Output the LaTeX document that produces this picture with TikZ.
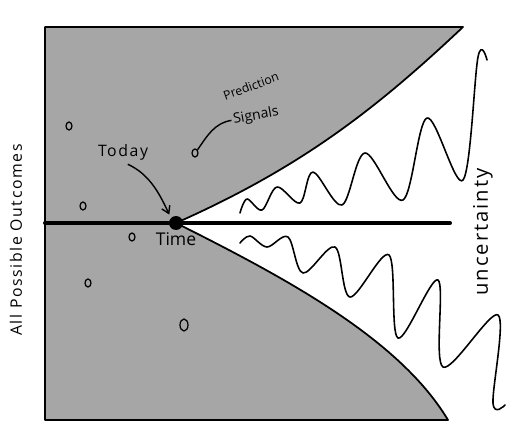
\documentclass[tikz,border=0pt]{standalone}
\usepackage{fontspec}
\setsansfont{Open Sans}
\usetikzlibrary{arrows.meta, calc, positioning, shapes.geometric}
\definecolor{conegray}{RGB}{166,166,166}

\begin{document}
\begin{tikzpicture}[x=0.02cm, y=-0.02cm,
    hand/.style={font=\sffamily, inner sep=1pt},
    pebble/.style={draw, ellipse, line width=0.7pt, minimum width=0.12cm, minimum height=0.16cm, inner sep=0pt},
    wave/.style={line width=0.9pt, line cap=round, line join=round},
    pointer/.style={line width=0.8pt, -{Straight Barb[length=4pt, width=5pt]}}]
    \useasboundingbox (0,0) rectangle (530,442);

    % cone of outcomes
    \filldraw[fill=conegray, line width=1pt, line join=round] (45,27) -- (463,27)
        .. controls (375,110) and (300,168) .. (176,223)
        .. controls (290,280) and (400,340) .. (448,420) -- (45,420) -- cycle;

    % time axis
    \coordinate (axisL) at (45,223);
    \coordinate (axisR) at (450,223);
    \draw[line width=2.3pt, line cap=round] (axisL) -- (axisR);
    \node[circle, fill, minimum size=0.28cm, inner sep=0pt] (today) at (176,223) {};

    % labels
    \node[hand, rotate=90, font=\sffamily\fontsize{9}{11}\selectfont\addfontfeature{LetterSpace=10}] (outcomes) at (16,240) {All Possible Outcomes};
    \node[hand, rotate=90, font=\sffamily\fontsize{11.5}{13}\selectfont\addfontfeature{LetterSpace=10}] (uncert) at (483,232) {uncertainty};
    \node[hand, font=\sffamily\fontsize{9}{11}\selectfont\addfontfeature{LetterSpace=10}] (todaylbl) at (123,152) {Today};
    \node[hand, below=0pt of today, font=\sffamily\fontsize{10}{12}\selectfont] (time) {Time};
    \node[hand, rotate=20, font=\sffamily\fontsize{7}{8}\selectfont] (pred) at (251,86) {Prediction};
    \node[hand, rotate=10, font=\sffamily\fontsize{8}{9}\selectfont] (signals) at (256,116) {Signals};

    % scattered signals
    \node[pebble] (sig) at (195,153) {};
    \node[pebble] (p1) at (69,126) {};
    \node[pebble] (p2) at (83,206) {};
    \node[pebble] (p3) at (132,237) {};
    \node[pebble] (p4) at (88,283) {};
    \node[pebble, minimum width=0.16cm, minimum height=0.24cm] (p5) at (184,325) {};

    % pointers
    \draw[pointer, shorten <=3pt, shorten >=2pt] (todaylbl.south) to[out=-25, in=115] (today.north west);
    \draw[line width=0.8pt] (signals.west) to[out=190, in=55] (sig.north east);

    % upper wave
    \draw[wave] plot[smooth, tension=0.55] coordinates {(240,213) (247,199) (262,210) (277,187) (300,203) (313,172)
        (342,205) (365,153) (403,200) (427,118) (463,180) (478,57) (487,60)};
    % lower wave
    \draw[wave] plot[smooth, tension=0.55] coordinates {(240,243) (250,236) (267,247) (288,237) (303,273) (335,247)
        (350,297) (389,255) (398,338) (438,280) (443,367) (498,315) (493,403) (505,405)};
\end{tikzpicture}
\end{document}
